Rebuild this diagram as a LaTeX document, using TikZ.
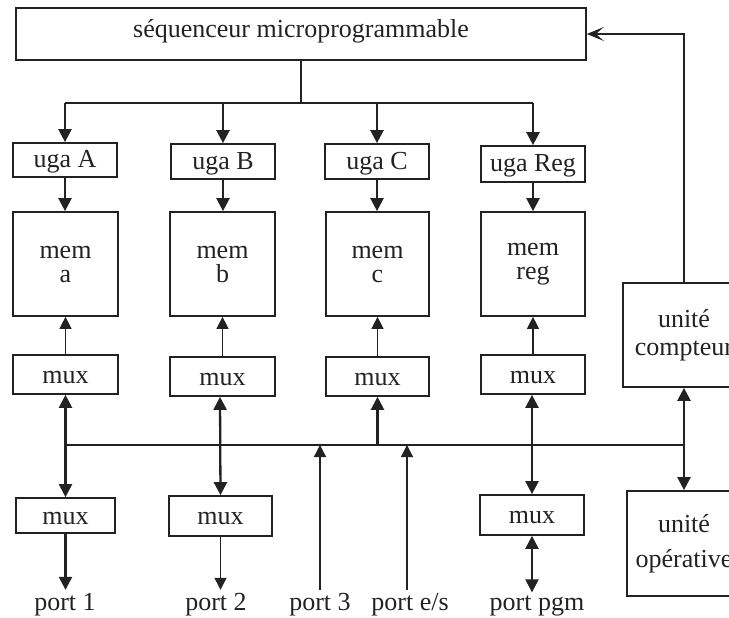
\documentclass[tikz,border=0pt]{standalone}
\usepackage{fontspec}
\setmainfont{Liberation Serif}
\usetikzlibrary{arrows.meta}
\definecolor{ink}{RGB}{34,34,34}
\tikzset{
  every node/.style={font=\fontsize{26}{26}\selectfont, text=ink},
  box/.style={draw=ink, line width=1.7pt, inner sep=0pt, align=center, minimum width=104pt},
  ugabox/.style={box, text height=15pt, text depth=0pt},
  muxbox/.style={box, text height=17pt, text depth=0pt},
  conn/.style={draw=ink, line width=2.3pt},
  thinconn/.style={draw=ink, line width=1.3pt},
  arr/.style={conn, -{Triangle[length=13pt,width=13pt]}},
  dbl/.style={conn, {Triangle[length=13pt,width=13pt]}-{Triangle[length=13pt,width=13pt]}},
  tarr/.style={thinconn, -{Triangle[length=12pt,width=12pt]}},
  fb/.style={thinconn, -{Stealth[length=17pt,width=14pt,inset=8pt]}},
  lbl/.style={inner sep=0pt, outer sep=3pt, anchor=base}
}
\begin{document}
\begin{tikzpicture}[x=1pt,y=-1pt]
\useasboundingbox (0,0) rectangle (729,618);
\clip (0,0) rectangle (729,618);

% top sequencer
\node[box, minimum width=570pt, minimum height=52pt, text height=17.7pt, text depth=10pt] (seq) at (301,34) {séquenceur microprogrammable};

% uga row
\node[ugabox, minimum height=34pt] (ugaA) at (65,160) {uga A};
\node[ugabox, minimum height=35pt] (ugaB) at (223,161.5) {uga B};
\node[ugabox, minimum height=35pt] (ugaC) at (377,161.5) {uga C};
\node[ugabox, minimum height=36pt] (ugaR) at (533,164) {uga Reg};

% mem row
\node[box, minimum width=105pt, minimum height=104pt] (mema) at (65.5,264) {mem\\[-2pt]a};
\node[box, minimum width=105pt, minimum height=104pt] (memb) at (222.5,264) {mem\\[-2pt]b};
\node[box, minimum width=103pt, minimum height=104pt] (memc) at (377.5,264) {mem\\[-2pt]c};
\node[box, minimum width=104pt, minimum height=104pt] (memr) at (533,264) {mem\\[-2pt]reg};

% mux row
\node[muxbox, minimum width=105pt, minimum height=39pt] (muxa) at (65.5,374.5) {mux};
\node[muxbox, minimum width=105pt, minimum height=39pt] (muxb) at (222.5,376.5) {mux};
\node[muxbox, minimum width=103pt, minimum height=39pt] (muxc) at (377.5,376.5) {mux};
\node[muxbox, minimum width=104pt, minimum height=39pt] (muxr) at (533,374.5) {mux};

% lower muxes
\node[muxbox, minimum width=99pt, minimum height=35pt] (lmuxa) at (65.5,515.5) {mux};
\node[muxbox, minimum width=103pt, minimum height=40pt] (lmuxb) at (220.5,516) {mux};
\node[muxbox, minimum width=104pt, minimum height=40pt] (lmuxp) at (532,515) {mux};

% right units (cut off by the right edge, as in the original)
\node[box, minimum width=122pt, minimum height=104pt] (cmp) at (684,335) {unité\\[2pt]compteur};
\node[box, minimum width=114pt, minimum height=105pt] (op) at (684,543.5) {unité\\[9pt]opérative};

% port labels
\node[lbl] (p1) at (65,610) {port 1};
\node[lbl] (p2) at (216,610) {port 2};
\node[lbl] (p3) at (320,610) {port 3};
\node[lbl] (pes) at (410,610) {port e/s};
\node[lbl] (ppgm) at (537,610) {port pgm};

% top distribution
\coordinate (tb) at (301,103);
\draw[thinconn] (seq.south) -- (tb);
\draw[conn] (ugaA.north |- tb) -- (ugaR.north |- tb);
\draw[arr] (ugaA.north |- tb) -- (ugaA.north);
\draw[arr] (ugaB.north |- tb) -- (ugaB.north);
\draw[arr] (ugaC.north |- tb) -- (ugaC.north);
\draw[arr] (ugaR.north |- tb) -- (ugaR.north);

% uga -> mem
\draw[arr] (ugaA.south) -- (ugaA.south |- mema.north);
\draw[arr] (ugaB.south) -- (ugaB.south |- memb.north);
\draw[arr] (ugaC.south) -- (ugaC.south |- memc.north);
\draw[arr] (ugaR.south) -- (ugaR.south |- memr.north);

% mux -> mem
\draw[tarr] (muxa.north) -- (mema.south);
\draw[tarr] (muxb.north) -- (memb.south);
\draw[tarr] (muxc.north) -- (memc.south);
\draw[tarr] (muxr.north) -- (memr.south);

% bus
\coordinate (bus) at (0,445);
\draw[conn] (muxa.south |- bus) -- (cmp.south |- bus);
\draw[dbl] (muxa.south) -- (muxa.south |- lmuxa.north);
\draw[dbl] (muxb.south -| 220,0) -- (lmuxb.north);
\draw[arr] (muxc.south |- bus) -- (muxc.south);
\draw[dbl] (muxr.south -| lmuxp.north) -- (lmuxp.north);
\draw[dbl] (cmp.south) -- (op.north);

% ports
\draw[arr] (lmuxa.south) -- (lmuxa.south |- p1.north);
\draw[tarr] (lmuxb.south) -- (lmuxb.south |- p2.north);
\draw[tarr] (p3.north) -- (p3.north |- bus);
\draw[tarr] (pes.north -| 407,0) -- (407,445);
\draw[dbl] (lmuxp.south) -- (lmuxp.south |- ppgm.north);

% feedback
\draw[fb] (cmp.north) |- (seq.east);
\end{tikzpicture}
\end{document}
